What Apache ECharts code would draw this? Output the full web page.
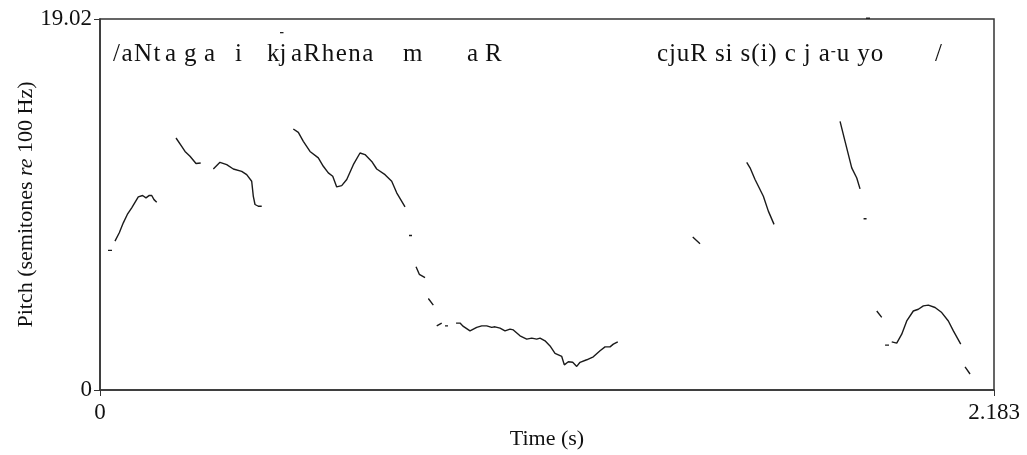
<!DOCTYPE html>
<html>
<head>
<meta charset="utf-8">
<script src="https://cdn.jsdelivr.net/npm/echarts@6/dist/echarts.min.js"></script>
<style>
html,body{margin:0;padding:0;background:#fff;}
#chart{width:1027px;height:455px;}
</style>
</head>
<body>
<div id="chart"></div>
<script>
// Pitch contour segments: [time (s), pitch (semitones re 100 Hz)]
const seg01 = [[0.0195,7.16],[0.0293,7.16]];
const seg02 = [[0.0366,7.63],[0.0471,8.06],[0.0569,8.57],[0.0667,9.00],[0.0774,9.34],[0.0935,9.90],[0.1040,9.97],[0.1123,9.85],[0.1204,9.98],[0.1263,9.97],[0.1319,9.76],[0.1385,9.63]];
const seg03 = [[0.1856,12.92],[0.1995,12.49],[0.2076,12.23],[0.2198,11.98],[0.2344,11.61],[0.2459,11.64]];
const seg04 = [[0.2767,11.33],[0.2930,11.67],[0.3094,11.55],[0.3255,11.33],[0.3460,11.21],[0.3582,11.04],[0.3704,10.70],[0.3744,9.93],[0.3785,9.51],[0.3866,9.42],[0.3949,9.42]];
const seg05 = [[0.4720,13.38],[0.4843,13.21],[0.4965,12.75],[0.5128,12.23],[0.5331,11.90],[0.5453,11.47],[0.5575,11.13],[0.5683,10.96],[0.5780,10.41],[0.5902,10.48],[0.6025,10.79],[0.6186,11.55],[0.6349,12.15],[0.6471,12.07],[0.6635,11.72],[0.6757,11.33],[0.6960,11.04],[0.7123,10.70],[0.7245,10.11],[0.7448,9.39]];
const seg06 = [[0.7546,7.92],[0.7619,7.92]];
const seg07 = [[0.7717,6.32],[0.7797,5.93],[0.7937,5.76]];
const seg08 = [[0.8017,4.69],[0.8139,4.35]];
const seg09 = [[0.8222,3.29],[0.8344,3.43]];
const seg10 = [[0.8425,3.29],[0.8498,3.29]];
const seg11 = [[0.8694,3.43],[0.8791,3.43],[0.8872,3.26],[0.9035,3.03],[0.9199,3.21],[0.9321,3.29],[0.9443,3.29],[0.9565,3.21],[0.9646,3.24],[0.9768,3.17],[0.9890,3.03],[1.0012,3.12],[1.0093,3.08],[1.0256,2.78],[1.0420,2.61],[1.0542,2.66],[1.0664,2.61],[1.0745,2.66],[1.0867,2.52],[1.0989,2.26],[1.1111,1.88],[1.1275,1.72],[1.1338,1.29],[1.1436,1.45],[1.1543,1.42],[1.1641,1.21],[1.1722,1.42],[1.1885,1.55],[1.2046,1.70],[1.2210,2.01],[1.2332,2.21],[1.2454,2.21],[1.2535,2.35],[1.2643,2.47]];
const seg12 = [[1.4474,7.84],[1.4652,7.50]];
const seg13 = [[1.5792,11.67],[1.5873,11.39],[1.5995,10.79],[1.6198,9.93],[1.6320,9.17],[1.6459,8.49]];
const seg14 = [[1.8071,13.77],[1.8193,12.75],[1.8356,11.39],[1.8479,10.87],[1.8559,10.31]];
const seg15 = [[1.8645,8.78],[1.8718,8.78]];
const seg16 = [[1.8967,4.05],[1.9089,3.72]];
const seg17 = [[1.9170,2.30],[1.9267,2.30]];
const seg18 = [[1.9333,2.47],[1.9455,2.40],[1.9577,2.86],[1.9699,3.54],[1.9860,4.05],[1.9983,4.14],[2.0105,4.31],[2.0227,4.35],[2.0391,4.23],[2.0554,3.97],[2.0715,3.54],[2.0838,3.03],[2.1018,2.35]];
const seg19 = [[2.1123,1.19],[2.1245,0.82]];

const segments = [seg01,seg02,seg03,seg04,seg05,seg06,seg07,seg08,seg09,seg10,seg11,seg12,seg13,seg14,seg15,seg16,seg17,seg18,seg19];

const xMax = 2.183;
const yMax = 19.02;
const xTickLabels = ['0', '2.183'];
const yTickLabels = ['0', '19.02'];

// Transcription (¯ = macron mark)
const transcriptLeft = ['/aNt', 'a', 'g', 'a', 'i', 'kj', 'aRhena', 'm', 'a', 'R'];
const transcriptRight = ['cjuR si s(i) c j a\u00AFu yo', '/'];

// build series data with gaps
const lineData = [];
segments.forEach((s, i) => {
  if (i > 0) lineData.push([s[0][0], '-']);
  s.forEach(p => lineData.push(p));
});

const FONT = '"Liberation Serif","Times New Roman",serif';
const textCol = '#111';
const TSIZE = 25;
const titleMid = 54;

const ctx = document.createElement('canvas').getContext('2d');
ctx.font = TSIZE + 'px ' + FONT;

const graphics = [];
function layoutWord(str, x0, ls) {
  let x = x0;
  for (const ch of str) {
    if (ch === '\u00AF') {
      graphics.push({ type: 'rect', shape: { x: x + 0.5, y: titleMid - 3, width: 4, height: 1.3 }, style: { fill: '#222' } });
      x += 5 + ls;
      continue;
    }
    if (ch !== ' ') {
      graphics.push({
        type: 'text', x: x, y: titleMid,
        style: { text: ch, font: TSIZE + 'px ' + FONT, fill: textCol, verticalAlign: 'middle', align: 'left' }
      });
    }
    x += ctx.measureText(ch).width + ls;
  }
}
const leftX = [113, 165, 184, 204, 235, 267, 291, 403, 467, 485];
transcriptLeft.forEach((t, i) => layoutWord(t, leftX[i], i === 5 ? 0 : 1.5));
layoutWord(transcriptRight[0], 657, 0.9);
layoutWord(transcriptRight[1], 935, 0);
graphics.push({ type: 'rect', shape: { x: 280, y: 32, width: 3.5, height: 1.3 }, style: { fill: '#222' } });
graphics.push({ type: 'rect', shape: { x: 866, y: 17.5, width: 4, height: 1.5 }, style: { fill: '#222' } });

const chart = echarts.init(document.getElementById('chart'), null, { renderer: 'canvas' });
chart.setOption({
  backgroundColor: '#fff',
  animation: false,
  grid: { left: 100, right: 33, top: 19, bottom: 64, show: true, borderColor: '#333', borderWidth: 1.5, backgroundColor: 'transparent' },
  xAxis: {
    type: 'value', min: 0, max: xMax, interval: xMax,
    axisLine: { show: true, onZero: false, lineStyle: { color: '#333', width: 1.5 } },
    axisTick: { show: true, length: 6, lineStyle: { color: '#333', width: 1 } },
    splitLine: { show: false },
    axisLabel: {
      margin: 11, fontFamily: FONT, fontSize: 23, color: textCol,
      formatter: v => (Math.abs(v) < 1e-9 ? xTickLabels[0] : xTickLabels[1])
    },
    name: 'Time (s)', nameLocation: 'middle', nameGap: 38, nameMoveOverlap: false,
    nameTextStyle: { fontFamily: FONT, fontSize: 22, color: textCol }
  },
  yAxis: {
    type: 'value', min: 0, max: yMax, interval: yMax,
    axisLine: { show: true, onZero: false, lineStyle: { color: '#333', width: 1.5 } },
    axisTick: { show: true, length: 6, lineStyle: { color: '#333', width: 1 } },
    splitLine: { show: false },
    axisLabel: {
      margin: 8, fontFamily: FONT, fontSize: 23, color: textCol,
      formatter: v => (Math.abs(v) < 1e-9 ? yTickLabels[0] : yTickLabels[1])
    },
    name: 'Pitch (semitones {i|re} 100 Hz)', nameLocation: 'middle', nameGap: 63, nameMoveOverlap: false,
    nameTextStyle: {
      fontFamily: FONT, fontSize: 22, color: textCol,
      rich: { i: { fontFamily: FONT, fontSize: 22, fontStyle: 'italic', color: textCol } }
    }
  },
  series: [{
    type: 'line', data: lineData, showSymbol: false, connectNulls: false,
    lineStyle: { color: '#1a1a1a', width: 1.4 }, silent: true
  }],
  graphic: graphics
});
</script>
</body>
</html>
